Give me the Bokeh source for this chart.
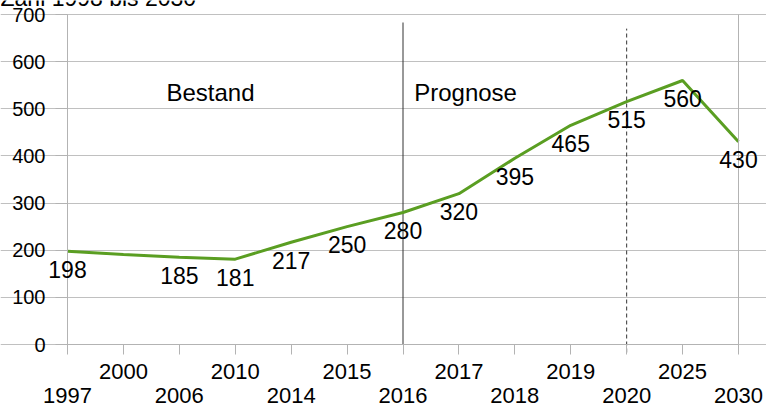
from bokeh.plotting import figure
from bokeh.models import Range1d, FixedTicker, LinearAxis, ColumnDataSource, Label, LabelSet
from bokeh.core.properties import value
from bokeh.embed import file_html
from bokeh.resources import INLINE

years = ["1997", "2000", "2006", "2010", "2014", "2015", "2016", "2017", "2018", "2019", "2020", "2025", "2030"]
counts = [198, 191, 185, 181, 217, 250, 280, 320, 395, 465, 515, 560, 430]
point_labels = ["198", "", "185", "181", "217", "250", "280", "320", "395", "465", "515", "560", "430"]
y_ticks = [0, 100, 200, 300, 400, 500, 600, 700]
solid_marker_year = "2016"
dashed_marker_year = "2020"
section_texts = ["Bestand", "Prognose"]
title_text = "Zahl 1998 bis 2030"

FONT = "Liberation Sans"
GRAY = "#b3b3b3"
idx = list(range(len(years)))
pos = {y: i for i, y in enumerate(years)}
n_last = len(years) - 1
y_max = y_ticks[-1]

# the frame spans the whole canvas; all axes are pinned at the data edges
px_per_cat = 671 / n_last
px_per_unit = 330 / y_max
p = figure(x_range=Range1d(-67 / px_per_cat, n_last + 28 / px_per_cat),
           y_range=Range1d(-63 / px_per_unit, y_max + 14 / px_per_unit),
           frame_width=766, frame_height=407,
           min_border_left=0, min_border_right=0, min_border_top=0, min_border_bottom=0,
           output_backend="svg", toolbar_location=None, margin=(0, 0, 0, 0))
p.outline_line_color = None
p.xgrid.visible = False
p.ygrid.grid_line_color = "#c0c0c0"
p.ygrid.ticker = FixedTicker(ticks=y_ticks)
p.ygrid.bounds = (0, n_last)

# y axis pinned at first category
ya = p.yaxis[0]
ya.fixed_location = 0
ya.bounds = (0, y_max)
ya.ticker = FixedTicker(ticks=y_ticks)
ya.major_tick_out = 12
ya.major_tick_in = 0
ya.minor_tick_out = 0
ya.minor_tick_in = 0
ya.axis_line_color = GRAY
ya.major_tick_line_color = GRAY
ya.major_label_text_font = FONT
ya.major_label_text_font_size = "20px"
ya.major_label_text_color = "black"
ya.major_label_standoff = 10

# right border line at last category
ra = LinearAxis(fixed_location=n_last, bounds=(0, y_max), ticker=FixedTicker(ticks=[]),
                major_tick_out=0, major_tick_in=0, minor_tick_out=0, minor_tick_in=0,
                axis_line_color=GRAY, major_label_text_color=None)
p.add_layout(ra, "right")

# x axis row 1 (odd positions) with ticks, pinned at 0
xa = p.xaxis[0]
xa.fixed_location = 0
xa.bounds = (0, n_last)
xa.ticker = FixedTicker(ticks=idx)
xa.major_label_overrides = {i: (years[i] if i % 2 == 1 else "") for i in idx}
xa.major_tick_out = 10
xa.major_tick_in = 0
xa.minor_tick_out = 0
xa.minor_tick_in = 0
xa.axis_line_color = GRAY
xa.major_tick_line_color = GRAY
xa.major_label_text_font = FONT
xa.major_label_text_font_size = "22px"
xa.major_label_text_color = "black"
xa.major_label_standoff = 9

# x axis row 2 (even positions), pinned at 0, labels further down
evens = [i for i in idx if i % 2 == 0]
xa2 = LinearAxis(fixed_location=0, ticker=FixedTicker(ticks=evens),
                 major_label_overrides={i: years[i] for i in evens},
                 major_tick_out=0, major_tick_in=0, minor_tick_out=0, minor_tick_in=0,
                 axis_line_color=None, major_tick_line_color=None,
                 major_label_text_font=FONT, major_label_text_font_size="22px",
                 major_label_text_color="black", major_label_standoff=43)
p.add_layout(xa2, "below")

# marker lines
p.segment(x0=[pos[solid_marker_year]], y0=[0], x1=[pos[solid_marker_year]], y1=[683],
          line_color="#333333", line_width=1)
p.segment(x0=[pos[dashed_marker_year]], y0=[-17], x1=[pos[dashed_marker_year]], y1=[670],
          line_color="#333333", line_width=1, line_dash="4 3")

# data line + labels
src = ColumnDataSource(dict(x=idx, y=counts, t=point_labels))
p.line("x", "y", source=src, line_color="#5a9e22", line_width=3)
p.add_layout(LabelSet(x="x", y="y", text="t", source=src, text_align="center",
                      text_baseline="middle", y_offset=-18, text_font=value(FONT),
                      text_font_size=value("23px"), text_color=value("black")))

# section texts
p.text(x=[1.77, 6.2], y=[535, 535], text=section_texts, text_align="left", text_baseline="middle",
       text_font=value(FONT), text_font_size="24px", text_color="black")

# title, cut off by the top edge as in the original
p.add_layout(Label(x=-67 / px_per_cat, y=736, text=title_text, text_font=FONT, text_font_size="23px",
                   text_baseline="alphabetic", text_align="left", text_color="black"))

open("out.html", "w").write(file_html(p, INLINE))
